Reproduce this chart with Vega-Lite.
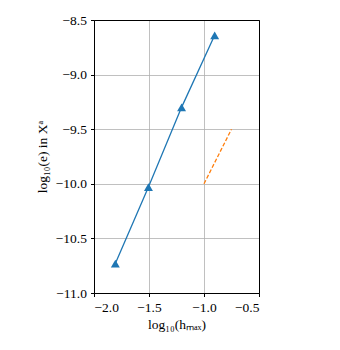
{
  "$schema": "https://vega.github.io/schema/vega-lite/v6.json",
  "width": 165,
  "height": 273,
  "autosize": {"type": "none"},
  "padding": {"left": 94, "top": 20, "right": 81, "bottom": 57},
  "background": "white",
  "config": {
    "view": {"stroke": "black", "strokeWidth": 1},
    "font": "Liberation Serif",
    "axis": {
      "labelFont": "Liberation Serif",
      "titleFont": "Liberation Serif",
      "labelFontSize": 13.5,
      "titleFontSize": 13.5,
      "titleFontWeight": "normal",
      "labelColor": "black",
      "titleColor": "black",
      "domainColor": "black",
      "tickColor": "black",
      "tickSize": 3.5,
      "labelPadding": 4,
      "gridColor": "#b0b0b0",
      "gridWidth": 0.8
    }
  },
  "datasets": {
    "blue": [
      {"x": -1.806, "y": -10.73},
      {"x": -1.505, "y": -10.03},
      {"x": -1.204, "y": -9.30},
      {"x": -0.903, "y": -8.64}
    ],
    "ref": [
      {"x": -1.0, "y": -10.0},
      {"x": -0.75, "y": -9.5}
    ]
  },
  "resolve": {"axis": {"x": "independent", "y": "independent"}},
  "layer": [
    {
      "data": {"name": "blue"},
      "mark": {"type": "line", "color": "#1f77b4", "strokeWidth": 1.3, "point": {"shape": "triangle-up", "filled": true, "size": 80, "color": "#1f77b4", "opacity": 1}},
      "encoding": {
        "x": {"field": "x", "type": "quantitative", "scale": {"domain": [-2.0, -0.5], "nice": false, "zero": false},
          "axis": {"values": [-2.0, -1.5, -1.0, -0.5], "format": ".1f", "labelFont": "Liberation Serif", "title": "log₁₀(hₘₐₓ)", "titlePadding": 3}},
        "y": {"field": "y", "type": "quantitative", "scale": {"domain": [-11.0, -8.5], "nice": false, "zero": false},
          "axis": {"values": [-11.0, -10.5, -10.0, -9.5, -9.0, -8.5], "format": ".1f", "labelFont": "Liberation Serif", "title": "log₁₀(e) in Xᵃ", "titlePadding": 6}}
      }
    },
    {
      "data": {"name": "ref"},
      "mark": {"type": "line", "color": "#ff7f0e", "strokeWidth": 1.3, "strokeDash": [4, 2]},
      "encoding": {
        "x": {"field": "x", "type": "quantitative",
          "axis": {"orient": "top", "grid": false, "labels": false, "ticks": false, "title": null, "domain": true, "domainColor": "black", "zindex": 2}},
        "y": {"field": "y", "type": "quantitative",
          "axis": {"orient": "right", "grid": false, "labels": false, "ticks": false, "title": null, "domain": true, "domainColor": "black", "zindex": 2}}
      }
    }
  ]
}
